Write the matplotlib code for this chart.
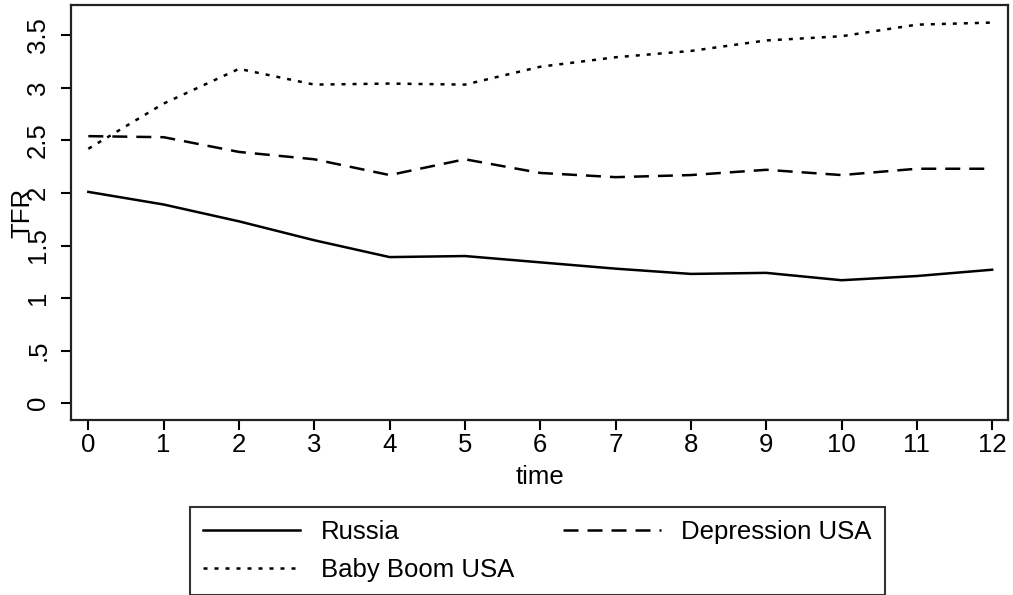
import matplotlib
matplotlib.use("Agg")
import matplotlib.pyplot as plt

plt.rcParams['font.family'] = ['Liberation Sans', 'DejaVu Sans']

# TFR by time
time = list(range(13))
russia = [2.01, 1.89, 1.73, 1.55, 1.39, 1.40, 1.34, 1.28, 1.23, 1.24, 1.17, 1.21, 1.27]
depression = [2.54, 2.53, 2.39, 2.32, 2.17, 2.32, 2.19, 2.15, 2.17, 2.22, 2.17, 2.23, 2.23]
babyboom = [2.42, 2.85, 3.18, 3.03, 3.04, 3.03, 3.20, 3.29, 3.35, 3.45, 3.49, 3.60, 3.62]

ytick_val = [0, 0.5, 1, 1.5, 2, 2.5, 3, 3.5]
ytick_lab = ['0', '.5', '1', '1.5', '2', '2.5', '3', '3.5']

fs = 18.5
fig = plt.figure(figsize=(10.13, 5.95), dpi=100)
ax = fig.add_axes([71/1013, 1-420/595, 937/1013, 415/595])

lw = 1.8
ax.plot(time, russia, color='black', lw=lw, label='Russia')
ax.plot(time, babyboom, color='black', lw=lw, dashes=(1.6, 2.8), label='Baby Boom USA')
ax.plot(time, depression, color='black', lw=lw, dashes=(6.0, 3.6), label='Depression USA')

ax.set_xlim(-0.23, 12.21)
ax.set_ylim(-0.159, 3.787)
ax.set_xticks(time)
ax.set_xticklabels([str(t) for t in time], fontsize=fs)
ax.set_yticks(ytick_val)
ax.set_yticklabels(ytick_lab, fontsize=fs, rotation=90, va='center')
ax.tick_params(axis='x', length=7, width=1.5, pad=2)
ax.tick_params(axis='y', length=7, width=1.5, pad=8)
for s in ax.spines.values():
    s.set_linewidth(1.6)
    s.set_color('#222222')

ax.set_xlabel('time', fontsize=fs, labelpad=6)
# TFR sits over the tick labels, as in the original
ax.set_ylabel('TFR', fontsize=fs)
ax.yaxis.set_label_coords(-0.052, 0.5)
ax.yaxis.label.set_va('center')

leg = fig.legend(loc='upper left', bbox_to_anchor=(190/1013, 1-507/595), ncol=2,
                 fontsize=fs, frameon=True, fancybox=False, borderaxespad=0,
                 handlelength=3.8, handletextpad=0.8, columnspacing=1.9,
                 borderpad=0.5, labelspacing=0.55)
leg.get_frame().set_edgecolor('black')
leg.get_frame().set_linewidth(1.5)

fig.savefig('out.png', dpi=100)
